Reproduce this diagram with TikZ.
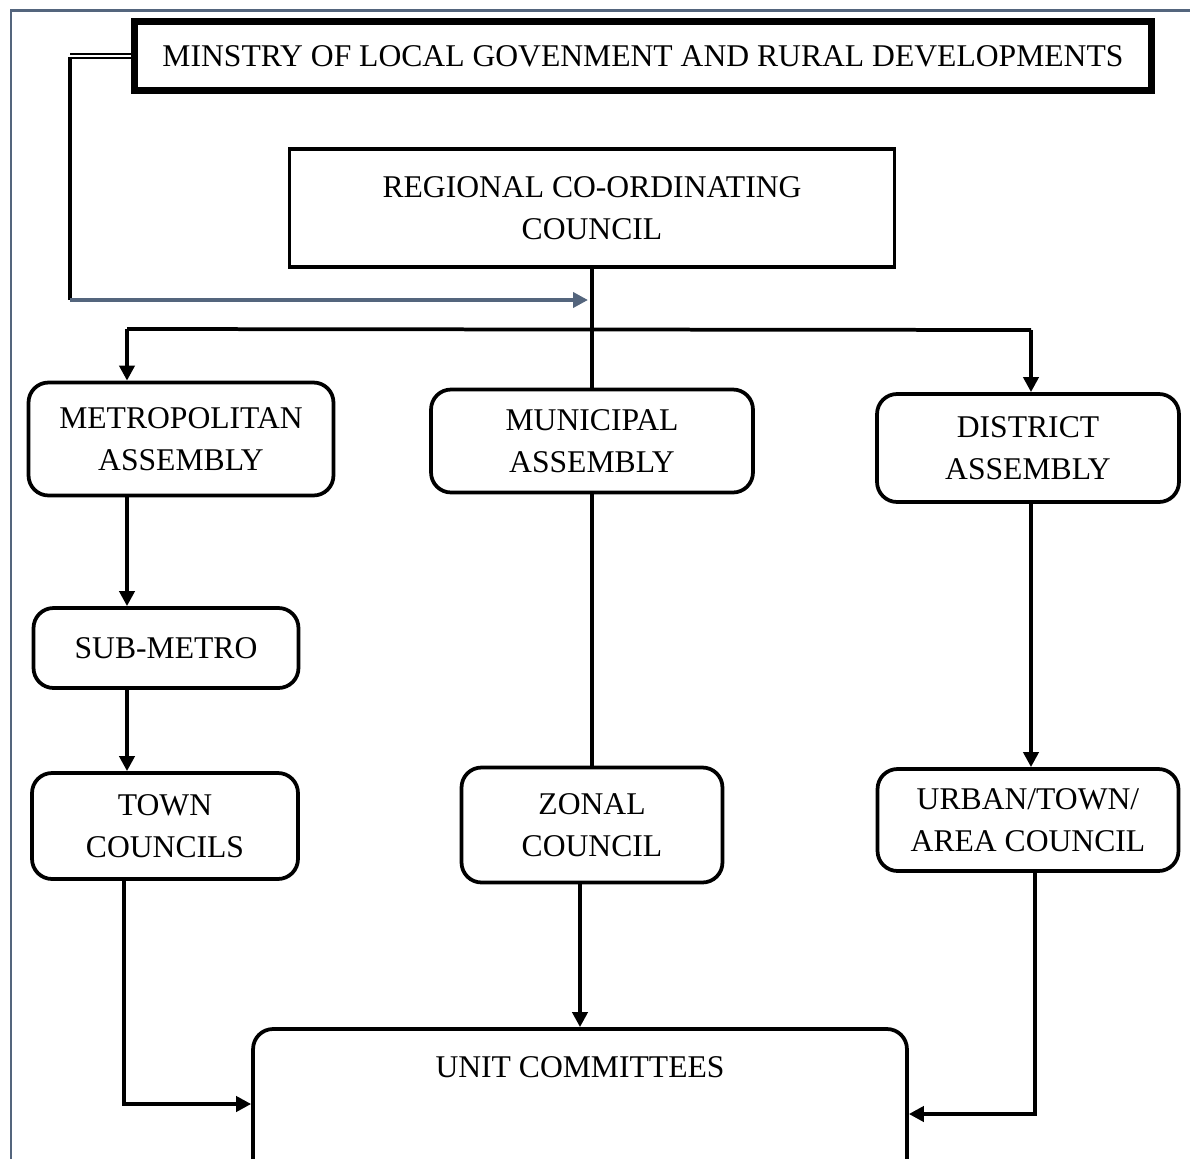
\documentclass[tikz,border=0pt]{standalone}
\usepackage{fontspec}
\setmainfont{Liberation Serif}
\usepackage{tikz}
\usetikzlibrary{arrows.meta,positioning}
\definecolor{framegray}{RGB}{84,101,125}

\tikzset{
  unitbox/.style={draw, line width=0.075cm, rounded corners=0.4cm, align=center,
    font=\fontsize{18}{24}\selectfont, inner sep=0pt},
  flow/.style={line width=0.075cm, -{Triangle[length=0.3cm,width=0.3cm]}},
  link/.style={line width=0.075cm}
}

\begin{document}
\begin{tikzpicture}[x=0.02cm, y=-0.02cm]
      \useasboundingbox (0,0) rectangle (1190,1159);
      \draw[framegray, line width=0.06cm] (1190,11) -- (11,11) -- (11,1159);
      \node[draw, line width=0.14cm, minimum width=20.34cm, minimum height=1.4cm,
            font=\fontsize{18}{24}\selectfont] (ministry) at (643,56) {MINSTRY OF LOCAL GOVENMENT AND RURAL DEVELOPMENTS};
      \node[unitbox, rounded corners=0pt, minimum width=12.1cm, minimum height=2.36cm] (regional) at (592,208) {REGIONAL CO-ORDINATING\\COUNCIL};
      \node[unitbox, minimum width=6.1cm, minimum height=2.26cm] (metro) at (181,439) {METROPOLITAN\\ASSEMBLY};
      \node[unitbox, minimum width=6.44cm, minimum height=2.06cm] (municipal) at (592,441) {MUNICIPAL\\ASSEMBLY};
      \node[unitbox, minimum width=6.04cm, minimum height=2.16cm] (district) at (1028,448) {DISTRICT\\ASSEMBLY};
      \node[unitbox, minimum width=5.3cm, minimum height=1.6cm] (submetro) at (166,648) {SUB-METRO};
      \node[unitbox, minimum width=5.32cm, minimum height=2.12cm] (town) at (165,826) {TOWN\\COUNCILS};
      \node[unitbox, minimum width=5.22cm, minimum height=2.3cm] (zonal) at (592,825) {ZONAL\\COUNCIL};
      \node[unitbox, minimum width=6.02cm, minimum height=2.04cm] (urban) at (1028,820) {URBAN/TOWN/\\AREA COUNCIL};
      \node[unitbox, minimum width=13.08cm, minimum height=3cm] (unit) at (580,1104) {};
      \node[anchor=base, font=\fontsize{18}{24}\selectfont] (unitlabel) at (580,1077) {UNIT COMMITTEES};

      \coordinate (side) at (70,56);
      \coordinate (corner) at (70,300);
      \coordinate (meet) at (588,300);
      \coordinate (barL) at (127,329);
      \coordinate (barR) at (1031,330);

      \draw[double, double distance=0.05cm, line width=0.03cm] (ministry.west) -- (side);
      \draw[link] ([yshift=-0.02cm]side) -- (corner);
      \draw[framegray, flow] (corner) -- (meet);
      \draw[link] (regional.south) -- (municipal.north);
      \draw[link] (barL) -- (barR);
      \draw[flow] (barL) -- (barL |- metro.north);
      \draw[flow] (barR) -- (barR |- district.north);
      \draw[flow] (barL |- metro.south) -- (barL |- submetro.north);
      \draw[flow] (barL |- submetro.south) -- (barL |- town.north);
      \draw[link] (municipal.south) -- (zonal.north);
      \draw[flow] (barR |- district.south) -- (barR |- urban.north);
      \draw[flow] ([xshift=-0.06cm]barL |- town.south) |- (unit.west);
      \draw[flow] (unit.north |- zonal.south) -- (unit.north);
      \draw[flow] ([xshift=0.14cm]urban.south) |- ([yshift=-0.2cm]unit.east);
\end{tikzpicture}
\end{document}
